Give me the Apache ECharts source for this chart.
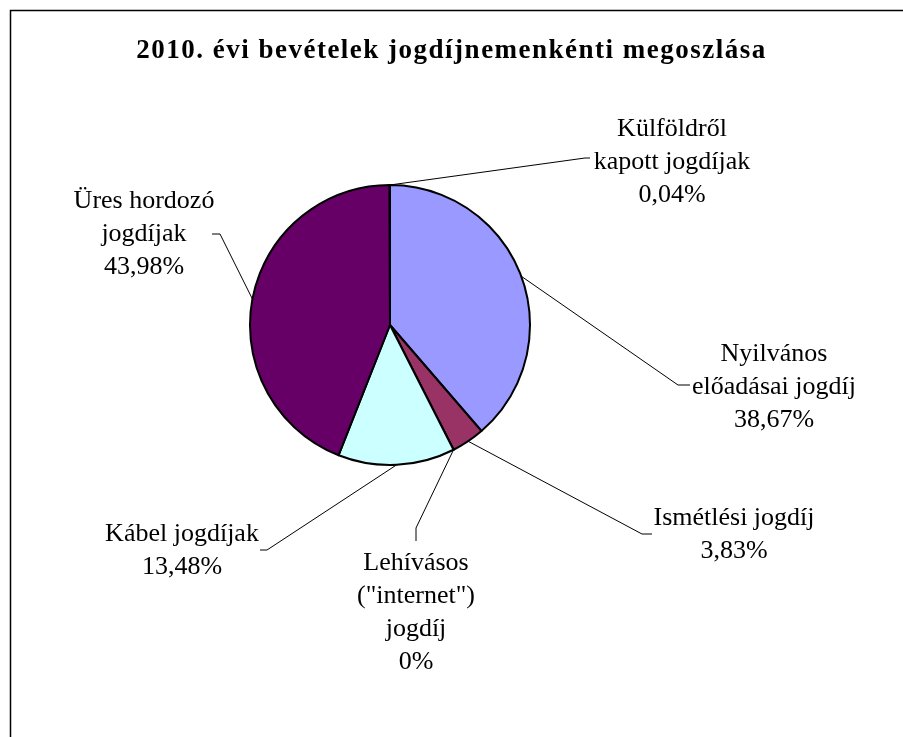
<!DOCTYPE html>
<html><head><meta charset="utf-8">
<script src="https://cdn.jsdelivr.net/npm/echarts@6/dist/echarts.min.js"></script>
<style>
html,body{margin:0;padding:0;background:#fff}
#c{width:903px;height:737px}
</style>
</head><body><div id="c"></div>
<script>
const titleText = '2010. évi bevételek jogdíjnemenkénti megoszlása';
const categories = [
  'Nyilvános\nelőadásai jogdíj',
  'Ismétlési jogdíj',
  'Lehívásos\n("internet")\njogdíj',
  'Kábel jogdíjak',
  'Üres hordozó\njogdíjak',
  'Külföldről\nkapott jogdíjak'
];
const values = [38.67, 3.83, 0, 13.48, 43.98, 0.04];
const colors = ['#9999FF', '#993366', '#FFFFCC', '#CCFFFF', '#660066', '#FF8080'];

// label placement (layout only)
const labelPlace = [
  {x: 774, y: 387, bend: [678, 385], end: [690, 385]},
  {x: 734, y: 535, bend: [642, 534], end: [652, 534]},
  {x: 416, y: 613, bend: [416, 528], end: [416, 541]},
  {x: 182, y: 551, bend: [267, 550], end: [260, 550]},
  {x: 144, y: 234, bend: [220, 234], end: [212, 234]},
  {x: 672, y: 162, bend: [585, 158], end: [590, 158]}
];

// widen the bold title a little, like the spaced-out original
(function () {
  const P = CanvasRenderingContext2D.prototype;
  const orig = P.fillText;
  P.fillText = function (t, x, y, m) {
    if (/bold/.test(this.font) && 'letterSpacing' in this) {
      const ls = this.letterSpacing;
      this.letterSpacing = '1.5px';
      m === undefined ? orig.call(this, t, x, y) : orig.call(this, t, x, y, m);
      this.letterSpacing = ls;
    } else {
      m === undefined ? orig.call(this, t, x, y) : orig.call(this, t, x, y, m);
    }
  };
})();

const chart = echarts.init(document.getElementById('c'), null, {renderer: 'canvas'});
const FONT = '"Liberation Serif", "Times New Roman", serif';

chart.setOption({
  backgroundColor: '#fff',
  animation: false,
  title: {
    text: titleText,
    left: 'center',
    top: 33,
    textStyle: {fontFamily: FONT, fontSize: 27, fontWeight: 'bold', color: '#000'}
  },
  graphic: [{
    type: 'rect', silent: true, z: -1,
    shape: {x: 10.5, y: 10.5, width: 1000, height: 1000},
    style: {fill: 'none', stroke: '#000', lineWidth: 1.5}
  }],
  series: [{
    type: 'pie',
    center: [390, 325],
    radius: 140,
    startAngle: 90,
    clockwise: true,
    avoidLabelOverlap: false,
    data: categories.map((n, i) => ({name: n, value: values[i], itemStyle: {color: colors[i]}})),
    itemStyle: {borderColor: '#000', borderWidth: 2},
    label: {
      show: true,
      position: 'outside',
      fontFamily: FONT,
      fontSize: 26,
      lineHeight: 33,
      color: '#000',
      align: 'center',
      formatter: p => p.name + '\n' + String(p.value).replace('.', ',') + '%'
    },
    labelLine: {show: true, length: 20, length2: 20, lineStyle: {color: '#000', width: 1}},
    labelLayout: function (params) {
      const lp = labelPlace[params.dataIndex];
      const start = params.labelLinePoints && params.labelLinePoints[0];
      const res = {x: lp.x, y: lp.y, align: 'center', verticalAlign: 'middle'};
      if (start) res.labelLinePoints = [start, lp.bend, lp.end];
      return res;
    },
    emphasis: {disabled: true}
  }]
});
</script>
</body></html>
